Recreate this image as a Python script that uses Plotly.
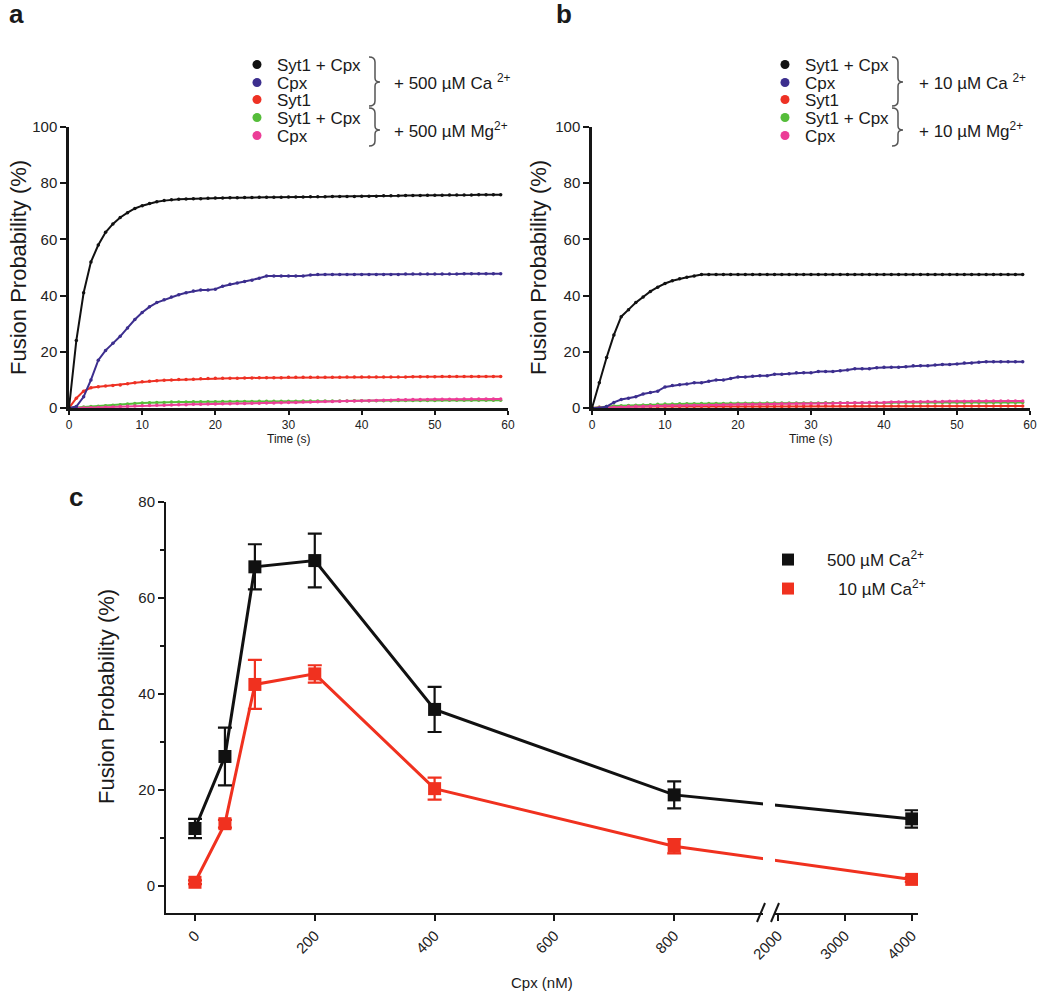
import plotly.graph_objects as go

W, H = 1050, 995
FONT = "Liberation Sans, Arial, sans-serif"
INK = "#161616"

# ---------------- data: panels a and b (time courses) ----------------
TIME_S = list(range(60))

A_SYT1_CPX_CA = [0, 24, 41, 52, 58, 62.5, 65.5, 67.8, 69.5, 71, 72, 72.8, 73.4, 73.8, 74.1, 74.3, 74.4, 74.5, 74.5, 74.6,
                 74.7, 74.7, 74.8, 74.8, 74.9, 74.9, 75.0, 75.0, 75.0, 75.0, 75.1, 75.1, 75.1, 75.2, 75.2, 75.2, 75.3, 75.3, 75.3, 75.3,
                 75.4, 75.4, 75.4, 75.5, 75.5, 75.5, 75.6, 75.6, 75.6, 75.7, 75.7, 75.7, 75.8, 75.8, 75.8, 75.8, 75.9, 75.9, 75.9, 75.9]
A_CPX_CA = [0, 0.5, 4, 10, 17, 20.5, 23, 25.5, 28.5, 31.5, 34, 36, 37.5, 38.5, 39.5, 40.3, 41, 41.6, 42, 42,
            42.3, 43.3, 44, 44.5, 45, 45.5, 46.2, 47, 47, 47, 47, 47, 47, 47.3, 47.5, 47.5, 47.5, 47.5, 47.5, 47.5,
            47.5, 47.5, 47.5, 47.5, 47.5, 47.5, 47.7, 47.7, 47.7, 47.7, 47.7, 47.7, 47.7, 47.7, 47.8, 47.8, 47.8, 47.8, 47.8, 47.8]
A_SYT1_CA = [0, 3.5, 6, 7.2, 7.6, 7.8, 8.0, 8.2, 8.6, 9.0, 9.3, 9.5, 9.7, 9.9, 10.0, 10.1, 10.1, 10.2, 10.4, 10.5,
             10.6, 10.6, 10.6, 10.6, 10.7, 10.7, 10.8, 10.8, 10.8, 10.8, 10.9, 10.9, 10.9, 10.9, 10.9, 10.9, 10.9, 10.9, 11.0, 11.0,
             11.0, 11.0, 11.0, 11.0, 11.0, 11.0, 11.0, 11.1, 11.1, 11.1, 11.1, 11.2, 11.2, 11.2, 11.2, 11.2, 11.2, 11.2, 11.2, 11.2]
A_SYT1_CPX_MG = [0, 0.2, 0.4, 0.5, 0.6, 0.8, 1.0, 1.2, 1.4, 1.6, 1.8, 1.9, 2.0, 2.0, 2.1, 2.1, 2.1, 2.2, 2.2, 2.2,
                 2.2, 2.3, 2.3, 2.3, 2.3, 2.3, 2.4, 2.4, 2.4, 2.4, 2.4, 2.4, 2.5, 2.5, 2.5, 2.5, 2.5, 2.5, 2.5, 2.6,
                 2.6, 2.6, 2.6, 2.6, 2.6, 2.7, 2.7, 2.7, 2.7, 2.7, 2.7, 2.8, 2.8, 2.8, 2.8, 2.8, 2.8, 2.8, 2.8, 2.8]
A_CPX_MG = [0, 0, 0, 0.1, 0.2, 0.3, 0.4, 0.5, 0.6, 0.7, 0.8, 0.9, 1.0, 1.0, 1.1, 1.2, 1.2, 1.3, 1.3, 1.4,
            1.4, 1.5, 1.5, 1.6, 1.6, 1.7, 1.7, 1.8, 1.8, 1.9, 2.0, 2.0, 2.1, 2.1, 2.2, 2.3, 2.3, 2.4, 2.5, 2.5,
            2.6, 2.6, 2.7, 2.8, 2.8, 2.9, 2.9, 3.0, 3.0, 3.0, 3.1, 3.1, 3.1, 3.1, 3.2, 3.2, 3.2, 3.2, 3.2, 3.2]

B_SYT1_CPX_CA = [0, 9, 18, 26, 32.5, 35, 37.5, 39.5, 41.5, 43, 44.3, 45.3, 46, 46.5, 47, 47.5, 47.5, 47.5, 47.5, 47.5,
                 47.5, 47.5, 47.5, 47.5, 47.5, 47.5, 47.5, 47.5, 47.5, 47.5, 47.5, 47.5, 47.5, 47.5, 47.5, 47.5, 47.5, 47.5, 47.5, 47.5,
                 47.5, 47.5, 47.5, 47.5, 47.5, 47.5, 47.5, 47.5, 47.5, 47.5, 47.5, 47.5, 47.5, 47.5, 47.5, 47.5, 47.5, 47.5, 47.5, 47.5]
B_CPX_CA = [0, 0, 0.5, 2, 3, 3.5, 4, 5, 5.5, 6, 7.5, 8, 8.3, 8.5, 9, 9, 9.5, 10, 10, 10.5,
            11, 11, 11.3, 11.5, 11.5, 12, 12, 12.2, 12.5, 12.5, 12.5, 13, 13, 13, 13.3, 13.5, 14, 14, 14, 14.3,
            14.5, 14.5, 14.5, 14.7, 15, 15, 15, 15.3, 15.5, 15.5, 15.7, 16, 16, 16.3, 16.5, 16.5, 16.5, 16.5, 16.5, 16.5]
B_SYT1_CA = [0, 0.3, 0.4, 0.5, 0.5, 0.5, 0.5, 0.5, 0.5, 0.5, 0.6, 0.6, 0.6, 0.6, 0.6, 0.6, 0.6, 0.6, 0.6, 0.6,
             0.6, 0.6, 0.6, 0.6, 0.6, 0.6, 0.6, 0.6, 0.6, 0.6, 0.7, 0.7, 0.7, 0.7, 0.7, 0.7, 0.7, 0.7, 0.7, 0.7,
             0.7, 0.7, 0.7, 0.7, 0.7, 0.7, 0.7, 0.7, 0.7, 0.7, 0.7, 0.7, 0.7, 0.7, 0.7, 0.7, 0.7, 0.7, 0.7, 0.7]
B_SYT1_CPX_MG = [0, 0.3, 0.5, 0.7, 0.8, 0.9, 1.0, 1.1, 1.2, 1.3, 1.4, 1.4, 1.5, 1.5, 1.5, 1.6, 1.6, 1.6, 1.6, 1.7,
                 1.7, 1.7, 1.7, 1.7, 1.8, 1.8, 1.8, 1.8, 1.8, 1.8, 1.8, 1.8, 1.9, 1.9, 1.9, 1.9, 1.9, 1.9, 1.9, 1.9,
                 1.9, 1.9, 2.0, 2.0, 2.0, 2.0, 2.0, 2.0, 2.0, 2.0, 2.0, 2.0, 2.0, 2.0, 2.0, 2.0, 2.0, 2.0, 2.0, 2.0]
B_CPX_MG = [0, 0.1, 0.2, 0.3, 0.4, 0.5, 0.6, 0.6, 0.7, 0.8, 0.8, 0.9, 0.9, 1.0, 1.0, 1.0, 1.1, 1.1, 1.2, 1.2,
            1.3, 1.3, 1.3, 1.4, 1.4, 1.4, 1.5, 1.5, 1.5, 1.5, 1.6, 1.6, 1.7, 1.7, 1.8, 1.8, 1.9, 1.9, 2.0, 2.0,
            2.0, 2.1, 2.1, 2.2, 2.2, 2.2, 2.3, 2.3, 2.3, 2.4, 2.4, 2.4, 2.4, 2.5, 2.5, 2.5, 2.5, 2.5, 2.5, 2.5]

SERIES_NAMES = ["Syt1 + Cpx", "Cpx", "Syt1", "Syt1 + Cpx", "Cpx"]
SERIES_COLORS = ["#111111", "#3c2e8e", "#ee3124", "#55bd3a", "#ec3d97"]
PANEL_A = [A_SYT1_CPX_CA, A_CPX_CA, A_SYT1_CA, A_SYT1_CPX_MG, A_CPX_MG]
PANEL_B = [B_SYT1_CPX_CA, B_CPX_CA, B_SYT1_CA, B_SYT1_CPX_MG, B_CPX_MG]

# ---------------- data: panel c (dose response) ----------------
CPX_NM = [0, 50, 100, 200, 400, 800, 4000]
CA500 = [12, 27, 66.5, 67.8, 36.8, 19, 14]
CA500_ERR = [2, 6, 4.7, 5.6, 4.7, 2.8, 1.8]
CA10 = [0.8, 13, 42, 44.2, 20.3, 8.3, 1.4]
CA10_ERR = [0.4, 0.8, 5.1, 1.8, 2.3, 1.5, 0.5]
X_TICK_NM = [0, 200, 400, 600, 800, 2000, 3000, 4000]
X_TICK_TEXT = ["0", "200", "400", "600", "800", "2000", "3000", "4000"]


def broken_axis(nm):
    """Piecewise-linear scale of the broken Cpx axis: 0-1000 nM linear, 2000-4000 nM compressed."""
    return nm if nm <= 1000 else 973 + (nm - 2000) * 0.1118


def X(px):
    """window pixel -> paper fraction"""
    return px / W


def Y(py):
    return 1 - py / H


fig = go.Figure()

# panels a and b: draw order red, green, pink, blue, black
order = [2, 3, 4, 1, 0]
for panel, (xa, ya) in zip([PANEL_A, PANEL_B], [("x", "y"), ("x2", "y2")]):
    for i in order:
        fig.add_trace(go.Scatter(
            x=TIME_S, y=panel[i], mode="lines+markers", xaxis=xa, yaxis=ya,
            line=dict(color=SERIES_COLORS[i], width=2),
            marker=dict(color=SERIES_COLORS[i], size=3.5),
            showlegend=False, hoverinfo="skip"))

# panel c
for vals, errs, col in [(CA10, CA10_ERR, "#f0311f"), (CA500, CA500_ERR, "#111111")]:
    fig.add_trace(go.Scatter(
        x=[broken_axis(v) for v in CPX_NM], y=vals, mode="lines+markers", xaxis="x3", yaxis="y3",
        line=dict(color=col, width=3), marker=dict(color=col, size=13, symbol="square"),
        error_y=dict(type="data", array=errs, visible=True, color=col, thickness=2.2, width=7),
        showlegend=False, hoverinfo="skip"))

# legends (one legend object per row so rows can be spaced like the original)
legends = {}
rows = [65, 83, 100, 118, 136]
k = 0
for text_x, xa, ya in [(277, "x", "y"), (805, "x2", "y2")]:
    for i in range(5):
        k += 1
        lname = "legend" if k == 1 else f"legend{k}"
        fig.add_trace(go.Scatter(
            x=[None], y=[None], mode="markers", xaxis=xa, yaxis=ya,
            marker=dict(color=SERIES_COLORS[i], size=9), name=SERIES_NAMES[i],
            legend=lname, showlegend=True))
        legends[lname] = dict(
            x=X(text_x - 40), y=Y(rows[i]), xanchor="left", yanchor="middle",
            bgcolor="rgba(0,0,0,0)", borderwidth=0, itemwidth=30,
            font=dict(family=FONT, size=17, color="#1a1a1a"))

for name, col, text_x, row, iw in [("500 µM Ca<sup>2+</sup>", "#111111", 827, 560, 68),
                                   ("10 µM Ca<sup>2+</sup>", "#f0311f", 838, 589, 90)]:
    k += 1
    lname = f"legend{k}"
    fig.add_trace(go.Scatter(
        x=[None], y=[None], mode="markers", xaxis="x3", yaxis="y3",
        marker=dict(color=col, size=12, symbol="square"), name=name,
        legend=lname, showlegend=True))
    legends[lname] = dict(
        x=X(text_x - (iw + 10)), y=Y(row), xanchor="left", yanchor="middle",
        bgcolor="rgba(0,0,0,0)", borderwidth=0, itemwidth=iw,
        font=dict(family=FONT, size=17, color="#1a1a1a"))

axis_common = dict(showline=True, linecolor=INK, linewidth=2.5, ticks="outside", ticklen=6,
                   tickwidth=2, tickcolor=INK, showgrid=False, zeroline=False, automargin=False,
                   tickfont=dict(family=FONT, size=15, color="#222"))

fig.update_layout(
    width=W, height=H, margin=dict(l=0, r=0, t=0, b=0, autoexpand=False),
    paper_bgcolor="white", plot_bgcolor="white",
    font=dict(family=FONT, color="#222"),
    xaxis=dict(axis_common, domain=[X(69), X(508)], range=[0, 60], tickvals=[0, 10, 20, 30, 40, 50, 60],
               anchor="y", ticklen=4, tickfont=dict(family=FONT, size=12, color="#222")),
    yaxis=dict(axis_common, domain=[Y(408), Y(127)], range=[0, 100], tickvals=[0, 20, 40, 60, 80, 100],
               anchor="x"),
    xaxis2=dict(axis_common, domain=[X(592), X(1030)], range=[0, 60], tickvals=[0, 10, 20, 30, 40, 50, 60],
                anchor="y2", ticklen=4, tickfont=dict(family=FONT, size=12, color="#222")),
    yaxis2=dict(axis_common, domain=[Y(408), Y(127)], range=[0, 100], tickvals=[0, 20, 40, 60, 80, 100],
                anchor="x2"),
    xaxis3=dict(axis_common, domain=[X(166), X(918)], range=[-48.4, 1207],
                tickvals=[broken_axis(v) for v in X_TICK_NM], ticktext=X_TICK_TEXT, tickangle=-45,
                anchor="y3", linewidth=2),
    yaxis3=dict(axis_common, domain=[Y(913), Y(502)], range=[-5.6, 80], tickvals=[0, 20, 40, 60, 80],
                anchor="x3", linewidth=2,
                minor=dict(dtick=10, ticks="outside", ticklen=4, tickwidth=2, tickcolor=INK)),
    **legends,
)

# axis titles and panel letters
ann = [
    dict(text="Fusion Probability (%)", x=X(18), y=Y(268), textangle=-90, size=22),
    dict(text="Fusion Probability (%)", x=X(538), y=Y(268), textangle=-90, size=22),
    dict(text="Fusion Probability (%)", x=X(106), y=Y(697), textangle=-90, size=22),
    dict(text="Time (s)", x=X(289), y=Y(439), size=12),
    dict(text="Time (s)", x=X(811), y=Y(439), size=12),
    dict(text="Cpx (nM)", x=X(542), y=Y(982), size=15),
    dict(text="<b>a</b>", x=X(16), y=Y(14), size=26),
    dict(text="<b>b</b>", x=X(564), y=Y(14), size=26),
    dict(text="<b>c</b>", x=X(76), y=Y(497), size=26),
    dict(text="+ 500 µM Ca <sup>2+</sup>", x=X(392), y=Y(82), size=17, xanchor="left"),
    dict(text="+ 500 µM Mg<sup>2+</sup>", x=X(392), y=Y(130), size=17, xanchor="left"),
    dict(text="+ 10 µM Ca <sup>2+</sup>", x=X(917), y=Y(82), size=17, xanchor="left"),
    dict(text="+ 10 µM Mg<sup>2+</sup>", x=X(917), y=Y(130), size=17, xanchor="left"),
]
for a in ann:
    fig.add_annotation(text=a["text"], x=a["x"], y=a["y"], xref="paper", yref="paper",
                       xanchor=a.get("xanchor", "center"), yanchor="middle",
                       textangle=a.get("textangle", 0), showarrow=False,
                       font=dict(family=FONT, size=a["size"], color="#1a1a1a"))


def P(px, py):
    return f"{X(px):.5f},{Y(py):.5f}"


def brace(xv, top, mid, bot):
    d = (f"M {P(xv - 6, top)} Q {P(xv, top)} {P(xv, top + 5)} L {P(xv, mid - 4)} "
         f"Q {P(xv, mid)} {P(xv + 5, mid)} Q {P(xv, mid)} {P(xv, mid + 4)} "
         f"L {P(xv, bot - 5)} Q {P(xv, bot)} {P(xv - 6, bot)}")
    return dict(type="path", path=d, xref="paper", yref="paper", line=dict(color="#555", width=1.5))


shapes = [brace(375, 57, 82, 106), brace(375, 108, 130, 146),
          brace(898, 57, 82, 106), brace(898, 108, 130, 146)]

# axis break in panel c
shapes.append(dict(type="rect", xref="paper", yref="paper", x0=X(763), x1=X(775), y0=Y(916), y1=Y(760),
                   fillcolor="white", line=dict(width=0), layer="above"))
for cx in (761, 775):
    shapes.append(dict(type="line", xref="paper", yref="paper", x0=X(cx - 4), y0=Y(922), x1=X(cx + 4), y1=Y(903),
                       line=dict(color=INK, width=2), layer="above"))

fig.update_layout(shapes=shapes)
# remove the default 8px page margin so the figure fills the 1050x995 window exactly
fig.write_html("out.html", config={"displayModeBar": False},
               post_script="document.body.style.margin='0';")
